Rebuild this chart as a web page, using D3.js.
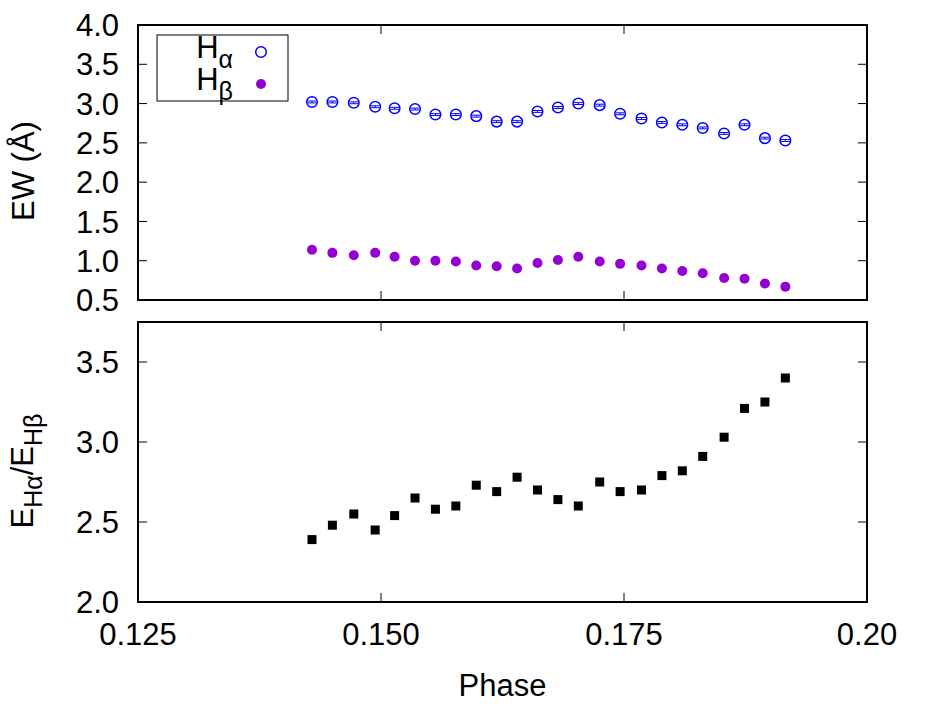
<!DOCTYPE html>
<html>
<head>
<meta charset="utf-8">
<script src="https://cdn.jsdelivr.net/npm/d3@7"></script>
<style>
  body { margin: 0; background: #fff; }
  text { font-family: "Liberation Sans", Arial, sans-serif; fill: #000; }
</style>
</head>
<body>
<div id="chart"></div>
<script>
// Data
const phase = [0.1429, 0.1450, 0.1472, 0.1494, 0.1514, 0.1535, 0.1556, 0.1577,
  0.1598, 0.1619, 0.1640, 0.1661, 0.1682, 0.1703, 0.1725, 0.1746,
  0.1768, 0.1789, 0.1810, 0.1831, 0.1853, 0.1874, 0.1895, 0.1916];
const ewHalpha = [3.02, 3.02, 3.01, 2.96, 2.94, 2.93, 2.86, 2.86,
  2.84, 2.77, 2.77, 2.90, 2.95, 3.00, 2.98, 2.87,
  2.81, 2.76, 2.73, 2.69, 2.62, 2.73, 2.56, 2.53];
const ewHalphaErr = [0.012, 0.012, 0.012, 0.012, 0.012, 0.012, 0.012, 0.012,
  0.012, 0.012, 0.012, 0.012, 0.012, 0.012, 0.012, 0.012,
  0.012, 0.012, 0.012, 0.012, 0.012, 0.012, 0.012, 0.012];
const ewHbeta = [1.14, 1.10, 1.07, 1.10, 1.05, 1.00, 1.00, 0.99,
  0.94, 0.93, 0.90, 0.97, 1.01, 1.05, 0.99, 0.96,
  0.94, 0.90, 0.87, 0.84, 0.78, 0.77, 0.71, 0.67];
const ratio = [2.39, 2.48, 2.55, 2.45, 2.54, 2.65, 2.58, 2.60,
  2.73, 2.69, 2.78, 2.70, 2.64, 2.60, 2.75, 2.69,
  2.70, 2.79, 2.82, 2.91, 3.03, 3.21, 3.25, 3.40];

const xTicks = [0.125, 0.150, 0.175, 0.20];
const xTickLabels = ["0.125", "0.150", "0.175", "0.20"];
const ewTicks = [0.5, 1.0, 1.5, 2.0, 2.5, 3.0, 3.5, 4.0];
const ratioTicks = [2.0, 2.5, 3.0, 3.5];

const width = 926, height = 708;
const left = 138, right = 867;
const topPanel = { top: 25, bottom: 300 };
const botPanel = { top: 322, bottom: 602 };
const tickLen = 9;
const fs = 31;

const svg = d3.select("#chart").append("svg")
  .attr("width", width).attr("height", height);
svg.append("rect").attr("width", width).attr("height", height).attr("fill", "#fff");

const x = d3.scaleLinear().domain([0.125, 0.20]).range([left, right]);
const yTop = d3.scaleLinear().domain([0.5, 4.0]).range([topPanel.bottom, topPanel.top]);
const yBot = d3.scaleLinear().domain([2.0, 3.75]).range([botPanel.bottom, botPanel.top]);

// draw frame, ticks and y labels of one panel
function drawPanel(panel, y, yTicks) {
  const g = svg.append("g");
  // y ticks (left and mirrored right)
  yTicks.forEach((t) => {
    g.append("line").attr("x1", left).attr("x2", left + tickLen)
      .attr("y1", y(t)).attr("y2", y(t)).attr("stroke", "#000");
    g.append("line").attr("x1", right).attr("x2", right - tickLen)
      .attr("y1", y(t)).attr("y2", y(t)).attr("stroke", "#000");
    g.append("text").attr("x", left - 19).attr("y", y(t)).attr("dy", "0.36em")
      .attr("text-anchor", "end").attr("font-size", fs).text(t.toFixed(1));
  });
  // x ticks (bottom and mirrored top)
  xTicks.forEach((t) => {
    g.append("line").attr("x1", x(t)).attr("x2", x(t))
      .attr("y1", panel.bottom).attr("y2", panel.bottom - tickLen).attr("stroke", "#000");
    g.append("line").attr("x1", x(t)).attr("x2", x(t))
      .attr("y1", panel.top).attr("y2", panel.top + tickLen).attr("stroke", "#000");
  });
  g.append("rect").attr("x", left).attr("y", panel.top)
    .attr("width", right - left).attr("height", panel.bottom - panel.top)
    .attr("fill", "none").attr("stroke", "#000").attr("stroke-width", 2);
}

drawPanel(topPanel, yTop, ewTicks);
drawPanel(botPanel, yBot, ratioTicks);

// x tick labels under the bottom panel
xTicks.forEach((t, i) => {
  svg.append("text").attr("x", x(t)).attr("y", 645)
    .attr("text-anchor", "middle").attr("font-size", fs).text(xTickLabels[i]);
});

svg.append("text").attr("x", (left + right) / 2).attr("y", 696)
  .attr("text-anchor", "middle").attr("font-size", fs).text("Phase");

// y axis titles
svg.append("text").attr("transform", "translate(34,171) rotate(-90)")
  .attr("text-anchor", "middle").attr("font-size", fs).text("EW (Å)");

const rl = svg.append("text").attr("transform", "translate(33,471) rotate(-90)")
  .attr("text-anchor", "middle").attr("font-size", fs);
rl.append("tspan").text("E");
rl.append("tspan").attr("font-size", 25).attr("dy", 9).text("Hα");
rl.append("tspan").attr("dy", -9).text("/E");
rl.append("tspan").attr("font-size", 25).attr("dy", 9).text("Hβ");

// H-alpha: open circles with error bar caps
const ha = svg.append("g").attr("stroke", "#0000ff").attr("fill", "none");
phase.forEach((p, i) => {
  const cx = x(p), cy = yTop(ewHalpha[i]);
  ha.append("circle").attr("cx", cx).attr("cy", cy).attr("r", 5.3).attr("stroke-width", 1.5);
  ha.append("line").attr("x1", cx).attr("x2", cx)
    .attr("y1", yTop(ewHalpha[i] - ewHalphaErr[i])).attr("y2", yTop(ewHalpha[i] + ewHalphaErr[i]));
  [-1, 1].forEach((s) => {
    const yy = yTop(ewHalpha[i] + s * ewHalphaErr[i]);
    ha.append("line").attr("x1", cx - 4.5).attr("x2", cx + 4.5)
      .attr("y1", yy).attr("y2", yy).attr("stroke-width", 1);
  });
});

// H-beta: filled circles
svg.append("g").selectAll("circle").data(phase).join("circle")
  .attr("cx", (d) => x(d)).attr("cy", (d, i) => yTop(ewHbeta[i]))
  .attr("r", 5).attr("fill", "#9400d3");

// ratio: filled squares
svg.append("g").selectAll("rect").data(phase).join("rect")
  .attr("x", (d) => x(d) - 4.5).attr("y", (d, i) => yBot(ratio[i]) - 4.5)
  .attr("width", 9).attr("height", 9).attr("fill", "#000");

// legend
const lg = svg.append("g");
lg.append("rect").attr("x", 157).attr("y", 35).attr("width", 131).attr("height", 66)
  .attr("fill", "#fff").attr("stroke", "#000").attr("stroke-width", 1);
const la = lg.append("text").attr("x", 233).attr("y", 58)
  .attr("text-anchor", "end").attr("font-size", fs);
la.append("tspan").text("H");
la.append("tspan").attr("font-size", 25).attr("dy", 10).text("α");
const lb = lg.append("text").attr("x", 233).attr("y", 90)
  .attr("text-anchor", "end").attr("font-size", fs);
lb.append("tspan").text("H");
lb.append("tspan").attr("font-size", 25).attr("dy", 10).text("β");
lg.append("circle").attr("cx", 261).attr("cy", 52).attr("r", 5.3)
  .attr("fill", "none").attr("stroke", "#0000ff").attr("stroke-width", 1.5);
lg.append("circle").attr("cx", 261).attr("cy", 84).attr("r", 5).attr("fill", "#9400d3");
</script>
</body>
</html>
